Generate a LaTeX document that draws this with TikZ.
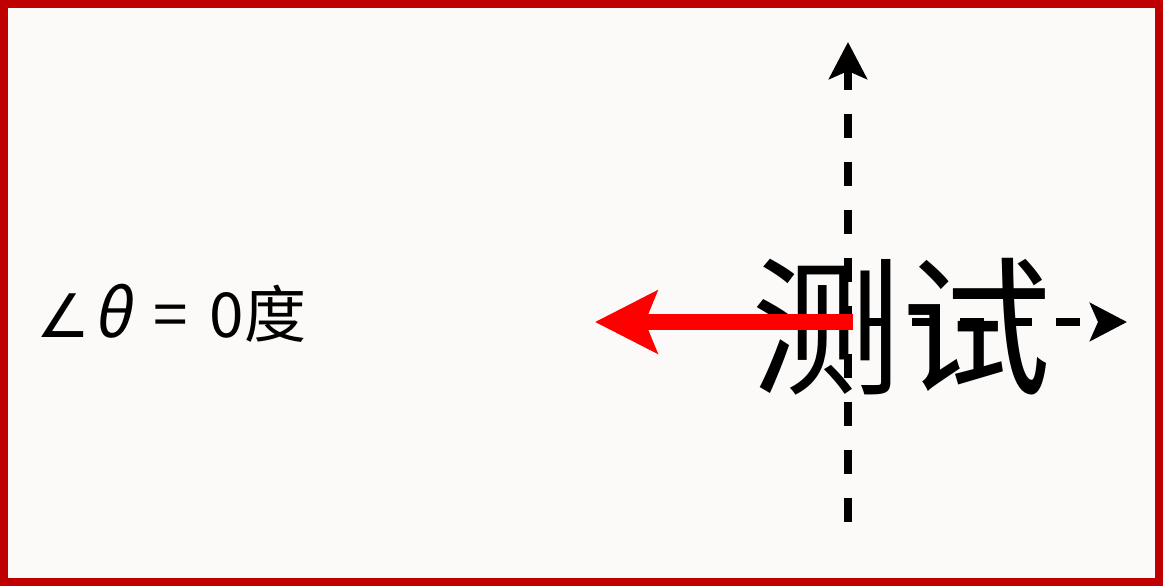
\documentclass[tikz,border=0pt]{standalone}
\usepackage{fontspec}
\setmainfont{Noto Sans CJK SC}
\newfontfamily\dejavu{DejaVu Sans}
\newfontfamily\slantgk[FakeSlant=0.2]{Noto Sans CJK SC}
\usetikzlibrary{arrows.meta}
\definecolor{frame}{HTML}{C00000}
\definecolor{bg}{HTML}{FBFAF8}
\definecolor{redarrow}{HTML}{FF0000}
\tikzset{
  axis/.style={line width=8pt, dash pattern=on 24pt off 24pt, -{Stealth[length=37pt,width=38pt,inset=8pt]}},
  bigarrow/.style={line width=16pt, redarrow, -{Stealth[length=62pt,width=62pt,inset=12pt]}},
}
\begin{document}
\begin{tikzpicture}[x=1pt,y=-1pt]
\useasboundingbox (0,0) rectangle (1163,586);
\draw[frame, fill=bg, line width=8pt] (4,4) rectangle (1159,582);
\coordinate (o) at (848,322);
\coordinate (vstart) at (848,522);
\coordinate (vend) at (848,42);
\coordinate (hend) at (1127,322);
\coordinate (rstart) at (853,322);
\coordinate (rend) at (595,322);
\draw[axis] (vstart) -- (vend);
\draw[axis, dash phase=32pt] (o) -- (hend);
\node[font=\fontsize{150pt}{150pt}\selectfont, inner sep=0pt] (label) at (901,327) {测试};
\draw[bigarrow] (rstart) -- (rend);
\node[font=\fontsize{62pt}{62pt}\selectfont, anchor=west, inner sep=0pt] (angle) at (36,313)
  {{\dejavu\fontsize{60pt}{60pt}\selectfont ∠}\hspace{3pt}{\slantgk\fontsize{66pt}{66pt}\selectfont θ}\hspace{22pt}=\hspace{22pt}0度};
\end{tikzpicture}
\end{document}
